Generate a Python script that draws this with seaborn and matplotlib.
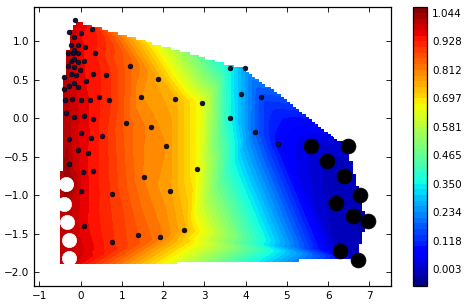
import numpy as np
import matplotlib
matplotlib.use("Agg")
import matplotlib.pyplot as plt
import matplotlib.tri as mtri
import seaborn as sns

# ---- data ----
dot_x = [-0.14, -0.29, 0.00, 0.27, -0.15, -0.24, -0.06, 0.10, -0.31, -0.18,
         -0.06, 0.35, -0.15, -0.24, -0.15, -0.06, 0.08, -0.31, -0.16, -0.02,
         -0.24, -0.11, 0.30, 0.61, -0.41, 0.13, -0.16, -0.29, -0.07, -0.41,
         -0.38, -0.22, 0.02, 0.22, 0.44, 0.70, 1.20, 1.88, 1.46, 2.29,
         2.93, -0.36, -0.17, 0.08, 0.30, 1.09, 1.71, 3.61, 3.62, 3.99,
         3.88, 4.37, 4.23, 4.78, -0.27, 0.02, 0.24, 0.51, -0.07, 0.17,
         2.06, -0.29, 0.05, 0.30, 1.53, 2.81, 0.00, 0.75, 2.16, 0.07,
         0.75, 1.38, 1.92, 2.50]
dot_y = [1.27, 1.12, 1.10, 1.16, 1.06, 0.95, 0.95, 0.93, 0.85, 0.84,
         0.84, 0.84, 0.89, 0.74, 0.77, 0.73, 0.74, 0.68, 0.67, 0.63,
         0.57, 0.56, 0.58, 0.56, 0.53, 0.48, 0.46, 0.42, 0.41, 0.38,
         0.24, 0.25, 0.24, 0.24, 0.28, 0.23, 0.68, 0.51, 0.28, 0.25,
         0.20, 0.07, 0.02, 0.03, -0.01, -0.06, -0.11, 0.00, 0.65, 0.65,
         0.31, 0.27, -0.18, -0.34, -0.27, -0.19, -0.26, -0.23, -0.41, -0.45,
         -0.36, -0.60, -0.70, -0.69, -0.76, -0.66, -0.95, -0.99, -0.95, -1.40,
         -1.61, -1.52, -1.55, -1.45]
dot_z = [0.99, 1.00, 0.95, 0.94, 0.98, 0.99, 0.96, 0.95, 1.00, 0.98,
         0.96, 0.93, 0.98, 0.99, 0.98, 0.96, 0.95, 1.00, 0.98, 0.96,
         0.99, 0.97, 0.94, 0.92, 1.01, 0.95, 0.98, 1.00, 0.97, 1.01,
         1.01, 0.99, 0.96, 0.95, 0.93, 0.91, 0.84, 0.76, 0.79, 0.75,
         0.65, 1.01, 0.99, 0.96, 0.94, 0.85, 0.80, 0.36, 0.35, 0.25,
         0.28, 0.15, 0.18, 0.08, 1.00, 0.96, 0.95, 0.92, 0.98, 0.95,
         0.79, 1.01, 0.96, 0.94, 0.81, 0.67, 0.97, 0.90, 0.77, 0.96,
         0.91, 0.86, 0.82, 0.75]

big_x = [5.58, 6.48, 5.97, 6.38, 6.78, 6.20, 6.61, 6.96, 6.28, 6.72]
big_y = [-0.36, -0.36, -0.55, -0.75, -1.00, -1.10, -1.27, -1.34, -1.72, -1.84]
big_z = [0.02, 0.01, 0.00, -0.01, -0.01, -0.02, -0.02, -0.0666, -0.01, 0.01]

white_x = [-0.36, -0.40, -0.32, -0.29, -0.28]
white_y = [-0.86, -1.12, -1.35, -1.58, -1.81]
white_z = [1.0668, 1.02, 1.01, 1.01, 1.01]

edge_x = [-0.56]
edge_y = [-1.92]
edge_z = [1.02]

# ---- style ----
sns.set_style("white")
plt.rcParams.update({
    "font.family": ["DejaVu Sans"],
    "font.size": 7.5,
    "xtick.direction": "in", "ytick.direction": "in",
    "xtick.top": True, "ytick.right": True,
    "xtick.bottom": True, "ytick.left": True,
    "xtick.major.size": 3.5, "ytick.major.size": 3.5,
    "xtick.major.width": 0.6, "ytick.major.width": 0.6,
    "axes.edgecolor": "black", "axes.linewidth": 0.9,
    "xtick.color": "black", "ytick.color": "black",
})

fig = plt.figure(figsize=(4.65, 3.07), dpi=100)
ax = fig.add_axes([0.0731, 0.0684, 0.7684, 0.9078])
cax = fig.add_axes([0.888, 0.0684, 0.0308, 0.9078])

px = np.array(dot_x + big_x + white_x + edge_x)
py = np.array(dot_y + big_y + white_y + edge_y)
pz = np.array(dot_z + big_z + white_z + edge_z)

tri = mtri.Triangulation(px, py)
interp = mtri.LinearTriInterpolator(tri, pz)
xi = np.linspace(px.min(), px.max(), 100)
yi = np.linspace(py.min(), py.max(), 100)
XI, YI = np.meshgrid(xi, yi)
ZI = interp(XI, YI)

levels = np.linspace(pz.min(), pz.max(), 50)
cs = ax.contourf(XI, YI, ZI, levels=levels, cmap="jet", corner_mask=False,
                 antialiased=False)

sns.scatterplot(x=dot_x, y=dot_y, ax=ax, color="#10103a", edgecolor="black",
                linewidth=0.4, s=12, zorder=3, legend=False)
sns.scatterplot(x=big_x, y=big_y, ax=ax, color="black", edgecolor="black",
                linewidth=0.5, s=115, zorder=3, legend=False)
sns.scatterplot(x=white_x, y=white_y, ax=ax, color="white", edgecolor="white",
                linewidth=0.5, s=105, zorder=3, legend=False)

ax.set_xlim(-1.13, 7.53)
ax.set_ylim(-2.18, 1.44)
ax.set_xticks(np.arange(-1, 8, 1))
ax.set_yticks(np.arange(-2.0, 1.01, 0.5))

cb = fig.colorbar(cs, cax=cax, ticks=levels[3::5], format="%.3f")
cb.ax.tick_params(direction="in", length=3.5, width=0.6, right=True, left=False)
cb.outline.set_edgecolor("black")

fig.savefig("out.png", dpi=100)
